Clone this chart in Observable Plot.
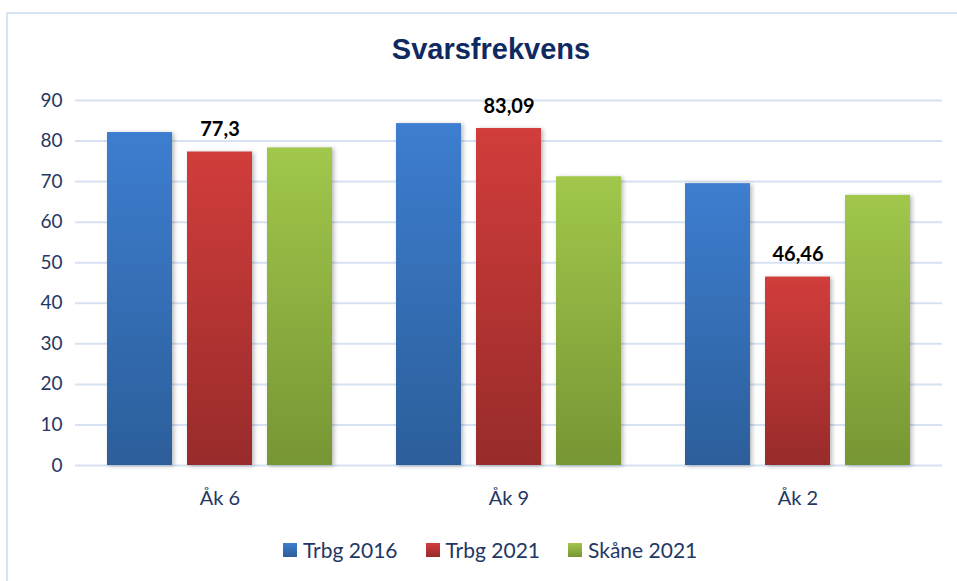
<!DOCTYPE html>
<html>
<head>
<meta charset="utf-8">
<script src="https://cdn.jsdelivr.net/npm/d3@7"></script>
<script src="https://cdn.jsdelivr.net/npm/@observablehq/plot@0.6"></script>
<style>
  body { margin: 0; background: #fff; overflow: hidden; width: 957px; height: 581px; position: relative; }
  #frame { position: absolute; left: 6px; top: 12px; width: 1000px; height: 640px; border: 2px solid #d6e4f4; box-sizing: border-box; }
  #title { position: absolute; left: 0; width: 982px; top: 33px; text-align: center; font: bold 29px "Liberation Sans", Arial, sans-serif; color: #0f2a60; }
  #chart { position: absolute; left: 0; top: 0; }
  #legend { position: absolute; left: 283px; top: 537px; display: flex; gap: 28px; font: 21px Lato, sans-serif; color: #1f3864; }
  .item { display: flex; align-items: center; }
  .sw { width: 14px; height: 14px; margin-right: 6px; }
</style>
</head>
<body>
<div id="frame"></div>
<div id="title">Svarsfrekvens</div>
<div id="chart"></div>
<div id="legend"></div>
<script>
const groups = ["Åk 6", "Åk 9", "Åk 2"];
const series = ["Trbg 2016", "Trbg 2021", "Skåne 2021"];
const trbg2016 = [82.1, 84.3, 69.5];
const trbg2021 = [77.3, 83.09, 46.46];
const skane2021 = [78.3, 71.2, 66.6];
const yTicks = [0, 10, 20, 30, 40, 50, 60, 70, 80, 90];
const labelledSeries = "Trbg 2021";

const gradTop = ["#3d7ed0", "#d13d3b", "#a1c74b"];
const gradBottom = ["#2c5e9a", "#982b2b", "#779634"];
const gradIds = ["gBlue", "gRed", "gGreen"];

const valuesBySeries = [trbg2016, trbg2021, skane2021];
const data = groups.flatMap((g, i) => series.map((s, j) => ({group: g, series: s, value: valuesBySeries[j][i]})));

const chart = Plot.plot({
  width: 957,
  height: 581,
  marginLeft: 75,
  marginRight: 15,
  marginTop: 100,
  marginBottom: 116,
  style: {fontFamily: "Lato, sans-serif", color: "#1f3864", background: "transparent", overflow: "visible"},
  fx: {domain: groups, padding: 0},
  x: {domain: series, paddingInner: 0.1875, paddingOuter: 0.4, axis: null},
  y: {domain: [0, 90]},
  marks: [
    Plot.ruleY(yTicks, {stroke: "#d6e2f2", strokeWidth: 2}),
    ...series.map((s, j) => Plot.barY(data.filter(d => d.series === s), {
      fx: "group", x: "series", y: "value", fill: `url(#${gradIds[j]})`
    })),
    Plot.text(data.filter(d => d.series === labelledSeries), {
      fx: "group", x: "series", y: "value",
      text: d => String(d.value).replace(".", ","),
      lineAnchor: "bottom", dy: -16, fontWeight: "bold", fontSize: 20, fill: "#000"
    }),
    Plot.axisY({ticks: yTicks, tickSize: 0, tickPadding: 13, fontSize: 19, label: null, fill: "#1f3864"}),
    Plot.axisFx({anchor: "bottom", tickSize: 0, tickPadding: 25, fontSize: 20, label: null, fill: "#1f3864"})
  ]
});

const svg = d3.select(chart);
const defs = svg.insert("defs", ":first-child");
gradIds.forEach((id, j) => {
  const lg = defs.append("linearGradient").attr("id", id).attr("x1", 0).attr("y1", 0).attr("x2", 0).attr("y2", 1);
  lg.append("stop").attr("offset", "0%").attr("stop-color", gradTop[j]);
  lg.append("stop").attr("offset", "100%").attr("stop-color", gradBottom[j]);
});
svg.selectAll('g[aria-label="bar"]').style("filter", "drop-shadow(2px 1px 2px rgba(0,0,0,0.28))");
document.getElementById("chart").appendChild(chart);

const legend = document.getElementById("legend");
series.forEach((s, j) => {
  const item = document.createElement("div");
  item.className = "item";
  const sw = document.createElement("div");
  sw.className = "sw";
  sw.style.background = `linear-gradient(${gradTop[j]}, ${gradBottom[j]})`;
  const t = document.createElement("span");
  t.textContent = s;
  item.appendChild(sw);
  item.appendChild(t);
  legend.appendChild(item);
});
</script>
</body>
</html>
